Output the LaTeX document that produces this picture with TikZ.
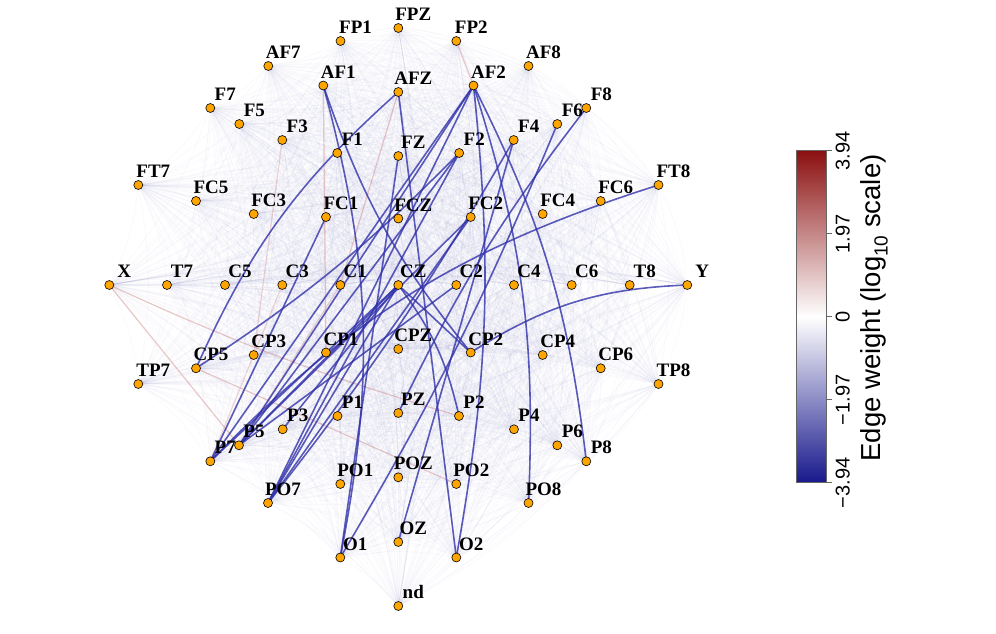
\documentclass[tikz,border=0pt]{standalone}
\usepackage{fontspec}
\setmainfont{Liberation Serif}
\newfontfamily\cbfont{Liberation Sans}
\usetikzlibrary{calc}
\definecolor{dotfill}{RGB}{255,165,0}
\definecolor{strongblue}{RGB}{50,50,170}
\definecolor{faintblue}{RGB}{130,130,205}
\definecolor{faintred}{RGB}{200,120,120}
\definecolor{cbred}{RGB}{140,16,16}
\definecolor{cbblue}{RGB}{24,24,140}
\tikzset{
  dot/.style={circle,fill=dotfill,draw=black,line width=0.6pt,minimum size=9pt,inner sep=0pt},
  lab/.style={font=\fontsize{19}{19}\selectfont\bfseries,anchor=base,inner sep=0pt},
  strong/.style={draw=strongblue,line width=1.6pt,opacity=0.8},
  pinkline/.style={draw=faintred,line width=1.2pt,opacity=0.4},
  faint/.style={draw=faintblue,line width=0.8pt,opacity=0.04},
  ticklab/.style={font=\cbfont\fontsize{20}{20}\selectfont,rotate=90,anchor=base,inner sep=0pt},
}
\begin{document}
\begin{tikzpicture}[x=1pt,y=-1pt]
\useasboundingbox (0,0) rectangle (996,634);
\fill[white] (0,0) rectangle (996,634);
% coordinates
\foreach \n/\x/\y in {FP1/340.5/41,FPZ/398.3/28,FP2/456.3/41,AF7/268.3/66,AF1/323.3/85.5,AFZ/398.3/92,AF2/473.5/85.5,AF8/528.5/66,
F7/210.3/108,F5/239.3/124,F3/282.3/140,F1/337.3/153,FZ/398.3/156,F2/459.2/153,F4/513.7/140,F6/557.3/124,F8/586.3/108,
FT7/138.3/185,FC5/196/201,FC3/253.7/214,FC1/326/217,FCZ/398.3/218.5,FC2/470.7/217,FC4/542.7/214,FC6/600.7/201,FT8/658.5/185,
X/109.3/285,T7/167/285,C5/225/285,C3/282.3/285,C1/340.3/285,CZ/398.3/285,C2/456.3/285,C4/514/285,C6/571.7/285,T8/629.7/285,Y/687.3/285,
TP7/138.3/384,CP5/196/368.3,CP3/253.7/355,CP1/326/352.5,CPZ/398.3/349,CP2/470.7/352.5,CP4/542.7/355,CP6/600.7/368.3,TP8/658.5/384,
P7/210.3/461.3,P5/239/445.3,P3/282.7/429.3,P1/337.5/416,PZ/398.3/413,P2/459/416,P4/514/429.3,P6/557.3/445.3,P8/586.3/461.3,
PO7/268/503,PO1/340.3/484,POZ/398.3/477.3,PO2/456.3/484,PO8/528.5/503,O1/340.3/557.5,OZ/398.3/542,O2/456.3/557.5,nd/398.3/606}
{\coordinate (\n) at (\x,\y);}
% faint background edges (slightly curved)
\foreach \a [count=\i] in {FP1,FPZ,FP2,AF7,AF1,AFZ,AF2,AF8,F7,F5,F3,F1,FZ,F2,F4,F6,F8,FT7,FC5,FC3,FC1,FCZ,FC2,FC4,FC6,FT8,X,T7,C5,C3,C1,CZ,C2,C4,C6,T8,Y,TP7,CP5,CP3,CP1,CPZ,CP2,CP4,CP6,TP8,P7,P5,P3,P1,PZ,P2,P4,P6,P8,PO7,PO1,POZ,PO2,PO8,O1,OZ,O2,nd}{
  \foreach \b [count=\j] in {FP1,FPZ,FP2,AF7,AF1,AFZ,AF2,AF8,F7,F5,F3,F1,FZ,F2,F4,F6,F8,FT7,FC5,FC3,FC1,FCZ,FC2,FC4,FC6,FT8,X,T7,C5,C3,C1,CZ,C2,C4,C6,T8,Y,TP7,CP5,CP3,CP1,CPZ,CP2,CP4,CP6,TP8,P7,P5,P3,P1,PZ,P2,P4,P6,P8,PO7,PO1,POZ,PO2,PO8,O1,OZ,O2,nd}{
    \ifnum\j>\i \draw[faint] (\a) to[bend left=10] (\b); \fi
  }
}
% pinkish edges
\draw[pinkline] (FP2) -- (AF2);
\draw[pinkline] (AFZ) -- (C1);
\draw[pinkline] (CP5) -- (PO2);
\draw[pinkline] (X) to[bend right=4] (P2);
\draw[pinkline] (X) -- (P5);
\draw[pinkline] (AF1) -- (CP1);
\draw[pinkline,opacity=0.3] (C3) -- (P7);
\draw[pinkline,opacity=0.3] (C1) -- (P5);
\draw[pinkline,opacity=0.3] (F3) -- (CP3);
% strong edges
\draw[strong] (AFZ) to[bend right=12] (CP5);
\draw[strong] (F2) to[bend left=6] (CP5);
\draw[strong] (AF1) to[bend left=13] (O1);
\draw[strong] (AF1) to[bend right=10] (CP2);
\draw[strong] (AFZ) -- (O2);
\draw[strong] (FZ) -- (O1);
\draw[strong] (F6) to[bend left=4] (O1);
\draw[strong] (F8) to[bend right=6] (PZ);
\draw[strong] (F4) -- (OZ);
\draw[strong] (AF2) to[bend left=8] (O2);
\draw[strong] (AF2) to[bend left=10] (PO8);
\draw[strong] (AF2) to[bend left=10] (P8);
\draw[strong] (FT8) to[bend right=14] (P7);
\draw[strong] (Y) to[bend right=15] (CP2);
\draw[strong] (CZ) -- (CP2);
\draw[strong] (CZ) to[bend left=12] (P2);
\draw[strong] (PO7) -- (AF2);
\draw[strong] (PO7) -- (F2);
\draw[strong] (PO7) to[bend right=4] (F4);
\draw[strong] (PO7) -- (FC2);
\draw[strong] (PO7) -- (CZ);
\draw[strong] (P5) -- (CZ);
\draw[strong] (P5) -- (FC2);
\draw[strong] (P5) -- (F2);
\draw[strong] (P5) -- (C2);
\draw[strong] (P5) -- (AF2);
\draw[strong] (P7) -- (FC1);
\draw[strong] (P7) -- (AF2);
\draw[strong] (P7) -- (CZ);
\draw[strong] (P3) -- (CZ);
% dots and labels
\foreach \n/\t/\x/\y in {FP1/FP1/340.5/41,FPZ/FPZ/398.3/28,FP2/FP2/456.3/41,AF7/AF7/268.3/66,AF1/AF1/323.3/85.5,AFZ/AFZ/398.3/92,AF2/AF2/473.5/85.5,AF8/AF8/528.5/66,
F7/F7/210.3/108,F5/F5/239.3/124,F3/F3/282.3/140,F1/F1/337.3/153,FZ/FZ/398.3/156,F2/F2/459.2/153,F4/F4/513.7/140,F6/F6/557.3/124,F8/F8/586.3/108,
FT7/FT7/138.3/185,FC5/FC5/196/201,FC3/FC3/253.7/214,FC1/FC1/326/217,FCZ/FCZ/398.3/218.5,FC2/FC2/470.7/217,FC4/FC4/542.7/214,FC6/FC6/600.7/201,FT8/FT8/658.5/185,
X/X/109.3/285,T7/T7/167/285,C5/C5/225/285,C3/C3/282.3/285,C1/C1/340.3/285,CZ/CZ/398.3/285,C2/C2/456.3/285,C4/C4/514/285,C6/C6/571.7/285,T8/T8/629.7/285,Y/Y/687.3/285,
TP7/TP7/138.3/384,CP5/CP5/196/368.3,CP3/CP3/253.7/355,CP1/CP1/326/352.5,CPZ/CPZ/398.3/349,CP2/CP2/470.7/352.5,CP4/CP4/542.7/355,CP6/CP6/600.7/368.3,TP8/TP8/658.5/384,
P7/P7/210.3/461.3,P5/P5/239/445.3,P3/P3/282.7/429.3,P1/P1/337.5/416,PZ/PZ/398.3/413,P2/P2/459/416,P4/P4/514/429.3,P6/P6/557.3/445.3,P8/P8/586.3/461.3,
PO7/PO7/268/503,PO1/PO1/340.3/484,POZ/POZ/398.3/477.3,PO2/PO2/456.3/484,PO8/PO8/528.5/503,O1/O1/340.3/557.5,OZ/OZ/398.3/542,O2/O2/456.3/557.5,nd/nd/398.3/606}
{\node[dot] (d\n) at (\n) {};
 \node[lab] (l\n) at (\x+15,\y-7.5) {\t};}
% colour bar
\shade[top color=cbred,bottom color=cbblue,middle color=white] (796.7,150.7) rectangle (826.7,482.7);
\draw[gray!80!black,line width=0.8pt] (796.7,150.7) rectangle (826.7,482.7);
\foreach \v/\y in {3.94/150.7,1.97/233.7,0/316.7,−1.97/399.7,−3.94/482.7}{
  \draw[gray!80!black,line width=0.8pt] (826.7,\y) -- (832,\y);
  \node[ticklab] at (849.5,\y) {\v};
}
\node[font=\cbfont\fontsize{27.5}{27.5}\selectfont,rotate=90,anchor=base,inner sep=0pt] (cbtitle) at (880,308) {Edge weight (log\raisebox{-0.28em}{\fontsize{19}{19}\selectfont 10} scale)};
\end{tikzpicture}
\end{document}
